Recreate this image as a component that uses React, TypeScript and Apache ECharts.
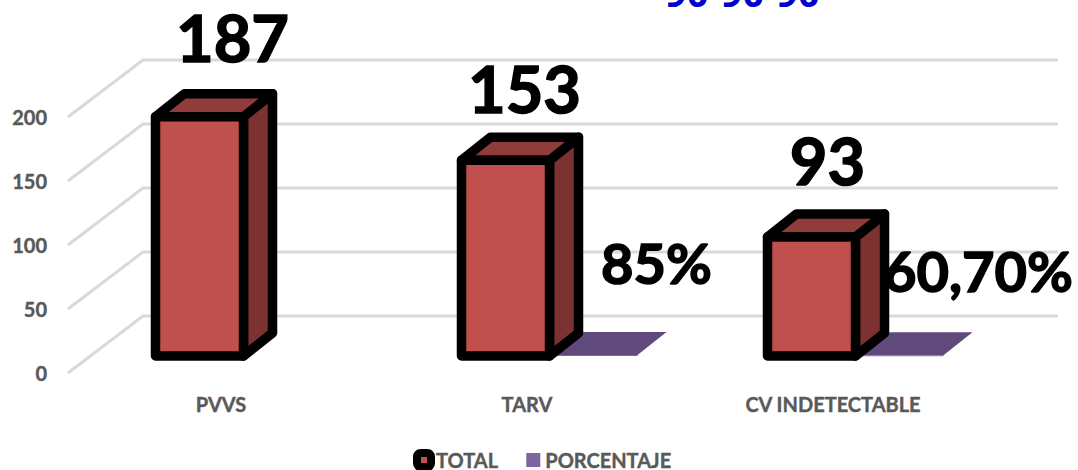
import React, { useEffect, useRef } from "react";
import * as echarts from "echarts";

const TITLE = "90-90-90";
const CATEGORIES = ["PVVS", "TARV", "CV INDETECTABLE"];
const TOTAL = [187, 153, 93];
const PORCENTAJE: (number | null)[] = [null, 0.85, 0.607];
const PORCENTAJE_LABELS = ["", "85%", "60,70%"];
const Y_TICKS = [0, 50, 100, 150, 200];

const WALL_DX = 75;
const WALL_DY = -57;
const BAR_DX = 29;
const BAR_DY = -23;
const BAR_W = 88;
const BAR_SHIFT = -21.5;
const BASE_LIFT = -17;
const FONT = "Lato, Carlito, Calibri, sans-serif";
const TOTAL_NUDGE = [[33, -80], [19, -72], [16, -77]];
const PCT_NUDGE = [[0, 0], [63, -92], [79, -85]];

function lineRender(params: any, api: any) {
  const cs = params.coordSys;
  const y = api.coord([0, api.value(0)])[1];
  return {
    type: "polyline",
    silent: true,
    shape: { points: [[cs.x, y], [cs.x + WALL_DX, y + WALL_DY], [cs.x + cs.width + WALL_DX - 3, y + WALL_DY]] },
    style: { stroke: "#d9d9d9", lineWidth: 3, fill: "none" },
  };
}

function geometry(api: any) {
  const i = api.value(0);
  const [cx, top0] = api.coord([i, api.value(1)]);
  const [, base0] = api.coord([i, 0]);
  const b = base0 + BASE_LIFT;
  const t = b - (base0 - top0);
  return { i, cx, b, t };
}

function barRender(params: any, api: any) {
  const { i, cx, b, t } = geometry(api);
  const l = cx + BAR_SHIFT - BAR_W / 2;
  const r = l + BAR_W;
  const stroke = { stroke: "#000", lineWidth: 9.5, lineJoin: "round" };
  const [nx, ny] = TOTAL_NUDGE[i];
  return {
    type: "group",
    children: [
      { type: "polygon", shape: { points: [[r, t], [r + BAR_DX, t + BAR_DY], [r + BAR_DX, b + BAR_DY], [r, b]] }, style: { fill: "#7b3230", ...stroke } },
      { type: "polygon", shape: { points: [[l, t], [l + BAR_DX, t + BAR_DY], [r + BAR_DX, t + BAR_DY], [r, t]] }, style: { fill: "#903c3a", ...stroke } },
      { type: "polygon", shape: { points: [[l, t], [r, t], [r, b], [l, b]] }, style: { fill: "#c0504d", ...stroke } },
      {
        type: "text",
        style: {
          text: String(api.value(1)), x: cx + BAR_SHIFT + nx, y: t + ny, fill: "#000", stroke: "#000", lineWidth: 1.5,
          font: `bold 65px ${FONT}`, textAlign: "center", textVerticalAlign: "middle",
        },
      },
    ],
  };
}

function slabRender(params: any, api: any) {
  const { cx, b, t } = geometry(api);
  const l = cx + BAR_SHIFT + BAR_W / 2;
  const r = l + BAR_W;
  return {
    type: "group",
    children: [
      { type: "polygon", shape: { points: [[l, t], [l + BAR_DX, t + BAR_DY], [r + BAR_DX, t + BAR_DY], [r, t]] }, style: { fill: "#604a7b" } },
      { type: "rect", shape: { x: l, y: t, width: BAR_W, height: Math.max(b - t, 1) }, style: { fill: "#8064a2" } },
    ],
  };
}

function pctLabelRender(params: any, api: any) {
  const { i, cx, t } = geometry(api);
  const [nx, ny] = PCT_NUDGE[i];
  return {
    type: "text",
    style: {
      text: PORCENTAJE_LABELS[i], x: cx + BAR_SHIFT + BAR_W + nx, y: t + ny, fill: "#000", stroke: "#000", lineWidth: 1.5,
      font: `bold 56px ${FONT}`, textAlign: "center", textVerticalAlign: "middle",
    },
  };
}

export default function App() {
  const ref = useRef<HTMLDivElement>(null);
  useEffect(() => {
    document.body.style.margin = "0";
    const chart = echarts.init(ref.current!, null, { renderer: "svg" });
    const pctData = PORCENTAJE.map((v, i) => [i, v]).filter((d) => d[1] !== null);
    chart.setOption({
      animation: false,
      backgroundColor: "#fff",
      title: {
        text: TITLE, left: 665, top: -27, padding: 0,
        textStyle: { color: "#0000cc", fontFamily: "'Open Sans', sans-serif", fontWeight: "bold", fontSize: 38 },
      },
      grid: { left: 68, right: 92, top: 117, bottom: 97 },
      xAxis: {
        type: "category", data: CATEGORIES,
        axisLine: { show: false }, axisTick: { show: false },
        axisLabel: { color: "#595959", fontFamily: FONT, fontWeight: "bold", fontSize: 20, margin: 21, interval: 0, textBorderColor: "#595959", textBorderWidth: 0.4 },
      },
      yAxis: {
        type: "value", min: 0, max: 200, interval: 50,
        axisLine: { show: false }, axisTick: { show: false }, splitLine: { show: false },
        axisLabel: { color: "#595959", fontFamily: FONT, fontWeight: "bold", fontSize: 20, margin: 21, textBorderColor: "#595959", textBorderWidth: 0.4 },
      },
      legend: {
        left: 413, top: 449, padding: 0, itemWidth: 14, itemHeight: 14, itemGap: 28,
        selectedMode: false,
        textStyle: { color: "#595959", fontFamily: FONT, fontWeight: "bold", fontSize: 20, textBorderColor: "#595959", textBorderWidth: 0.4 },
        data: [
          { name: "TOTAL", icon: "roundRect", itemStyle: { color: "#c0504d", borderColor: "#000", borderWidth: 8 } },
          { name: "PORCENTAJE", icon: "rect", itemStyle: { color: "#8064a2" } },
        ],
      },
      series: [
        { type: "custom", name: "grid", coordinateSystem: "cartesian2d", silent: true, z: 1, data: Y_TICKS, renderItem: lineRender, encode: { y: 0 } },
        {
          type: "custom", name: "PORCENTAJE", coordinateSystem: "cartesian2d", z: 2, itemStyle: { color: "#8064a2" },
          data: pctData, renderItem: slabRender, encode: { x: 0, y: 1 },
        },
        {
          type: "custom", name: "TOTAL", coordinateSystem: "cartesian2d", z: 3, itemStyle: { color: "#c0504d" },
          data: TOTAL.map((v, i) => [i, v]), renderItem: barRender, encode: { x: 0, y: 1 },
        },
        {
          type: "custom", name: "PORCENTAJE etiquetas", coordinateSystem: "cartesian2d", silent: true, z: 4,
          data: pctData, renderItem: pctLabelRender, encode: { x: 0, y: 1 },
        },
      ],
    });
    return () => chart.dispose();
  }, []);
  return <div ref={ref} style={{ position: "absolute", left: 0, top: 0, width: 1078, height: 470, overflow: "hidden" }} />;
}
